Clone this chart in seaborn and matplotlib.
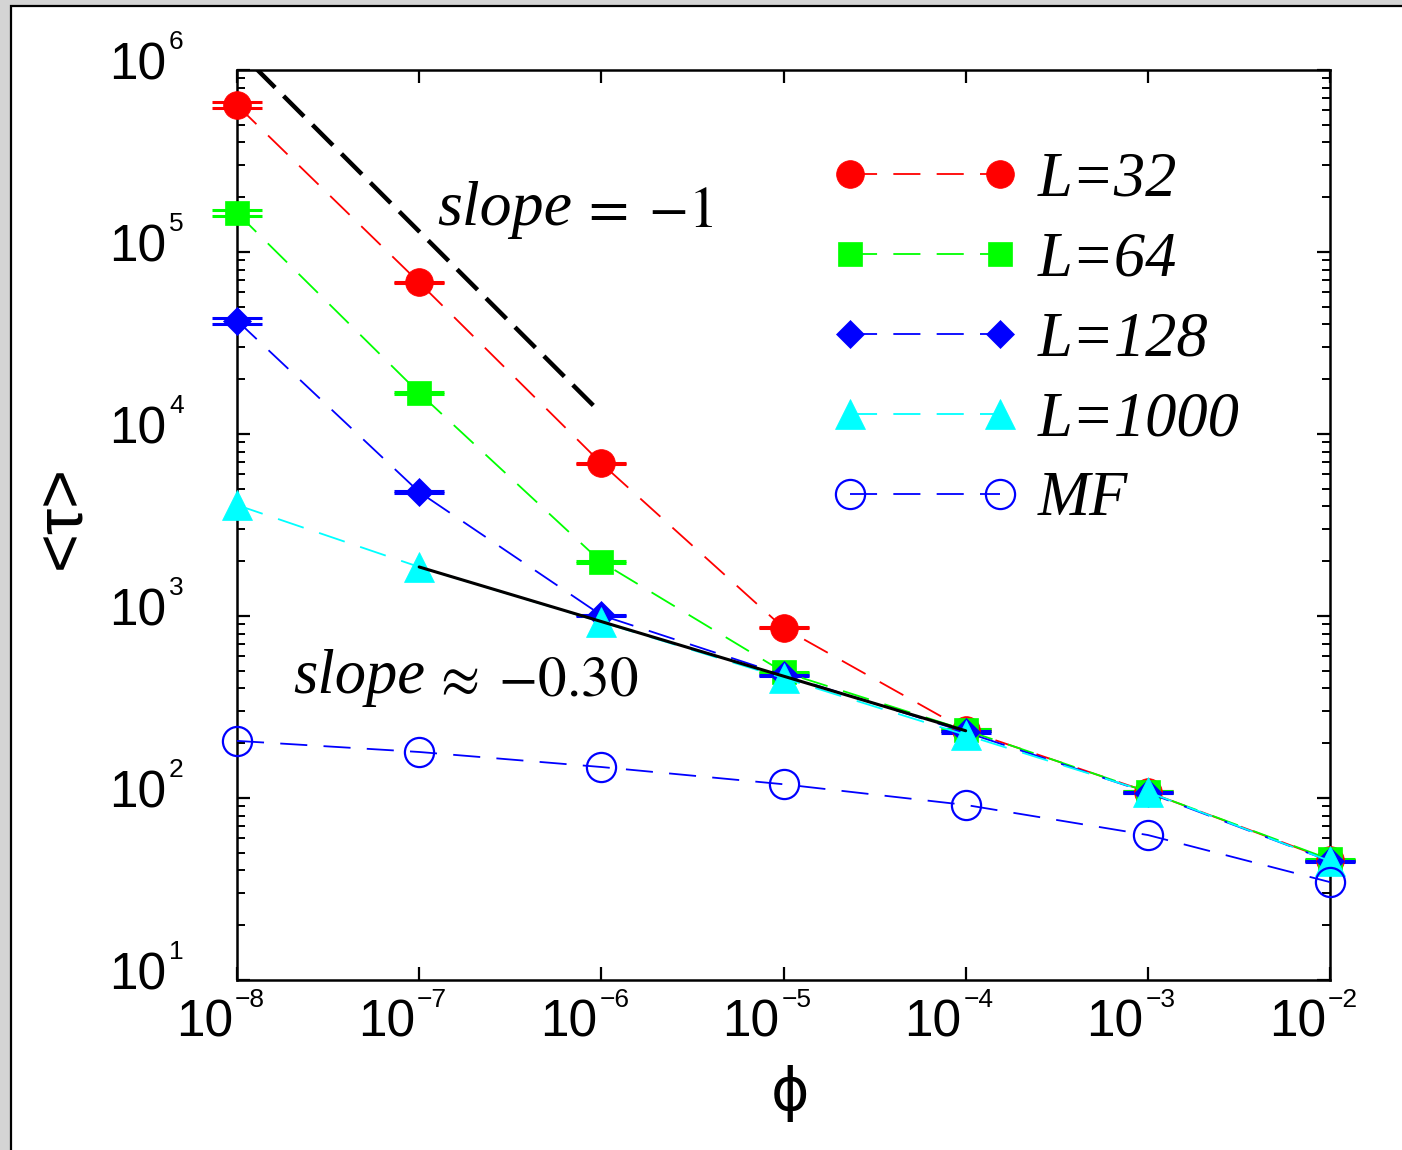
import numpy as np
import pandas as pd
import matplotlib
matplotlib.use("Agg")
import matplotlib.pyplot as plt
import seaborn as sns
from matplotlib.transforms import blended_transform_factory, offset_copy
from matplotlib.patches import Rectangle

# ---- data -----------------------------------------------------------------
phi = [1e-8, 1e-7, 1e-6, 1e-5, 1e-4, 1e-3, 1e-2]

tau_L32 = [6.4e5, 6.8e4, 6.9e3, 860, 236, 108, 45.6]
tau_L64 = [1.64e5, 1.68e4, 1980, 492, 236, 108, 46]
tau_L128 = [4.2e4, 4800, 1010, 474, 230, 107, 45]
tau_L1000 = [4070, 1860, 927, 456, 222, 108, 45]
tau_MF = [206, 179, 148, 119, 91.6, 62.6, 34.5]

err_L32 = [2.5e4, 600, 50, 6, 2, 0.8, 0.3]
err_L64 = [6.0e3, 150, 15, 3, 2, 0.8, 0.3]
err_L128 = [1.6e3, 40, 8, 3, 2, 0.8, 0.3]

series_names = ["L=32", "L=64", "L=128", "L=1000", "MF"]

# reference power laws
steep_x = [1.25e-8, 9.8e-7]
steep_slope = -1.0
steep_amp = 0.01297
shallow_x = [1e-7, 1e-4]
shallow_slope = -0.30
shallow_anchor = (1e-7, 1860)

# ---- style ----------------------------------------------------------------
sns.set_theme(style="ticks")
plt.rcParams["font.family"] = ["Liberation Sans", "DejaVu Sans"]
plt.rcParams["mathtext.fontset"] = "stix"
plt.rcParams["text.color"] = "black"

W, H = 1402, 1150
fig = plt.figure(figsize=(W / 100, H / 100), dpi=100)
fig.patch.set_facecolor("#d4d4d4")
fig.patches.append(Rectangle((10.5 / W, -0.05), 1.2, 1 - 5.5 / H + 0.05,
                             transform=fig.transFigure, facecolor="white",
                             edgecolor="black", linewidth=1.6, zorder=-5))

ax = fig.add_axes([237 / W, 170 / H, (1330 - 237) / W, (980 - 70) / H])
ax.set_facecolor("none")

dash = (0, (15, 9))
specs = [
    (tau_L32, "#ff0000", "o", 20, "#ff0000"),
    (tau_L64, "#00ff00", "s", 17, "#00ff00"),
    (tau_L128, "#0000ff", "D", 14, "#0000ff"),
    (tau_L1000, "#00ffff", "^", 21, "#00ffff"),
    (tau_MF, "#0000ff", "o", 21, "none"),
]

for (vals, err, col) in [(tau_L32, err_L32, "#ff0000"),
                         (tau_L64, err_L64, "#00ff00"),
                         (tau_L128, err_L128, "#0000ff")]:
    eb = ax.errorbar(phi, vals, yerr=err, fmt="none", ecolor=col,
                     capsize=18, capthick=2.2, elinewidth=1.5, zorder=2)
    for art in eb.lines[1] + eb.lines[2]:
        art.set_clip_on(False)

for name, (vals, col, mk, ms, fc) in zip(series_names, specs):
    df = pd.DataFrame({"phi": phi, "tau": vals})
    sns.lineplot(data=df, x="phi", y="tau", ax=ax, color=col, marker=mk,
                 markersize=ms, markerfacecolor=fc, markeredgecolor=col,
                 markeredgewidth=1.6 if fc == "none" else 0.5,
                 linewidth=1.3, linestyle=dash, label=name, errorbar=None,
                 zorder=3, clip_on=False)

# guide lines
sx = np.array(steep_x)
ax.plot(sx, steep_amp * sx ** steep_slope, color="black", linewidth=3.2,
        linestyle=(0, (6.5, 2.7)), zorder=4)
hx = np.array(shallow_x)
ax.plot(hx, shallow_anchor[1] * (hx / shallow_anchor[0]) ** shallow_slope,
        color="black", linewidth=2.2, zorder=5)

# slope annotations: italic word, upright relation
t1 = ax.text(0.1835, 0.814, "slope", transform=ax.transAxes, fontsize=46,
             family="Liberation Serif", style="italic", ha="left", va="bottom")
ax.annotate(r"$=\;{-}1$", xy=(1, 0), xycoords=t1, xytext=(5, 0),
            textcoords="offset points", fontsize=42, ha="left", va="bottom")
t2 = ax.text(0.051, 0.30, "slope", transform=ax.transAxes, fontsize=45,
             family="Liberation Serif", style="italic", ha="left", va="bottom")
ax.annotate(r"$\approx\;{-}0.30$", xy=(1, 0), xycoords=t2, xytext=(5, 0),
            textcoords="offset points", fontsize=41, ha="left", va="bottom")

# ---- axes -----------------------------------------------------------------
ax.set_xscale("log")
ax.set_yscale("log")
ax.set_xlim(1e-8, 1e-2)
ax.set_ylim(1e1, 1e6)
ax.set_xlabel("")
ax.set_ylabel("")

for s in ax.spines.values():
    s.set_linewidth(1.8)
    s.set_color("black")

ax.xaxis.set_major_locator(matplotlib.ticker.LogLocator(base=10, numticks=20))
ax.xaxis.set_minor_locator(matplotlib.ticker.NullLocator())
ax.yaxis.set_major_locator(matplotlib.ticker.LogLocator(base=10, numticks=20))
ax.yaxis.set_minor_locator(matplotlib.ticker.LogLocator(base=10, subs=np.arange(2, 10), numticks=20))
ax.tick_params(which="both", direction="in", top=True, right=True,
               labelbottom=False, labelleft=False, color="black")
ax.tick_params(which="major", length=9.5, width=1.6)
ax.tick_params(which="minor", length=5.5, width=1.4)

# decade labels: base plus raised exponent
x_exps = [-8, -7, -6, -5, -4, -3, -2]
y_exps = [1, 2, 3, 4, 5, 6]
tx = blended_transform_factory(ax.transData, ax.transAxes)
ty = blended_transform_factory(ax.transAxes, ax.transData)
for e in x_exps:
    ax.text(10.0 ** e, 0, "10", fontsize=37, ha="right", va="center",
            transform=offset_copy(tx, fig=fig, x=-3, y=-31, units="points"))
    ax.text(10.0 ** e, 0, "\u2212" + str(abs(e)), fontsize=19, ha="left",
            va="center",
            transform=offset_copy(tx, fig=fig, x=-1.5, y=-14.5, units="points"))
for e in y_exps:
    ax.text(0, 10.0 ** e, "10", fontsize=37, ha="right", va="center",
            transform=offset_copy(ty, fig=fig, x=-51, y=3, units="points"))
    ax.text(0, 10.0 ** e, str(e), fontsize=19, ha="left", va="center",
            transform=offset_copy(ty, fig=fig, x=-49, y=20, units="points"))

fig.text(62 / W, 1 - 517 / H, "<\u03c4>", rotation=90, fontsize=48,
         ha="center", va="center")
fig.text(790 / W, 1 - 1094 / H, "\u03d5", fontsize=42, ha="center",
         va="center", family=["DejaVu Sans"])

ax.legend(loc="upper left", bbox_to_anchor=(0.5435, 0.91), frameon=False,
          numpoints=2, handlelength=3.0, handletextpad=0.3,
          labelspacing=0.35, borderpad=0, borderaxespad=0,
          prop={"family": "Liberation Serif", "style": "italic", "size": 45})

fig.savefig("out.png", dpi=100, facecolor=fig.get_facecolor())
